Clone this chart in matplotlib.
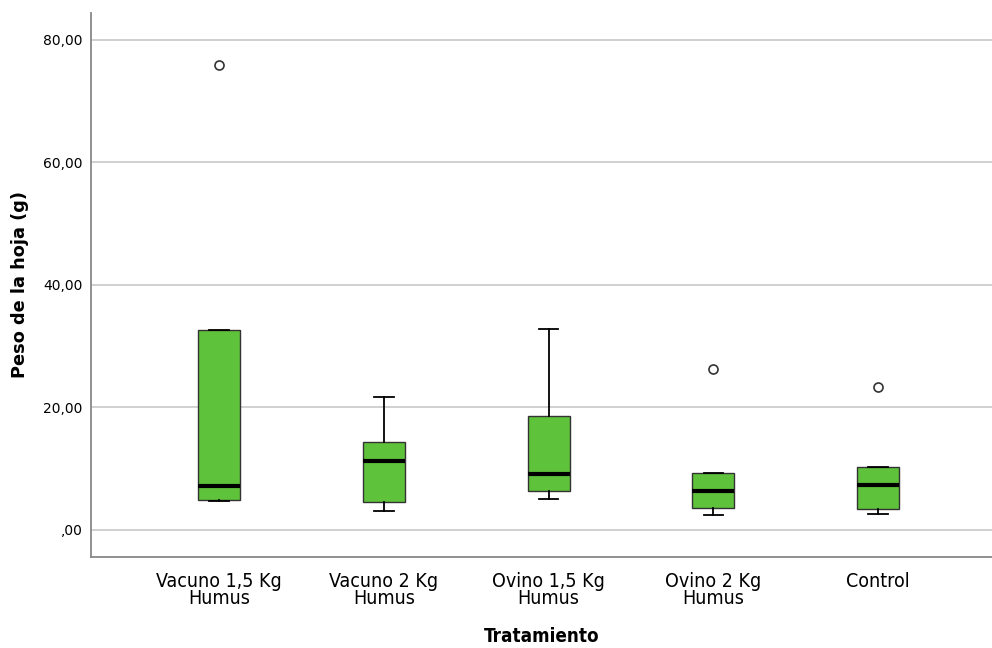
import matplotlib
matplotlib.use("Agg")
import matplotlib.pyplot as plt
from matplotlib import font_manager

# Box summaries for leaf weight per treatment
treatments = ["Vacuno 1,5 Kg\nHumus", "Vacuno 2 Kg\nHumus", "Ovino 1,5 Kg\nHumus",
              "Ovino 2 Kg\nHumus", "Control"]
q1 = [4.8, 4.5, 6.3, 3.5, 3.35]
medians = [7.1, 11.2, 9.1, 6.3, 7.3]
q3 = [32.5, 14.35, 18.5, 9.3, 10.2]
whisker_low = [4.7, 3.0, 5.0, 2.4, 2.5]
whisker_high = [32.5, 21.7, 32.8, 9.3, 10.2]
outliers = [[75.9], [], [], [26.2], [23.3]]

yticks = [0, 20, 40, 60, 80]
ytick_labels = [",00", "20,00", "40,00", "60,00", "80,00"]

# narrow face for the category labels and x title
names = {f.name for f in font_manager.fontManager.ttflist}
if "Liberation Sans Narrow" in names:
    narrow = dict(family="Liberation Sans Narrow")
else:
    narrow = dict(family="DejaVu Sans", stretch="condensed")

stats = []
for i in range(len(treatments)):
    stats.append({
        "q1": q1[i], "med": medians[i], "q3": q3[i],
        "whislo": whisker_low[i], "whishi": whisker_high[i],
        "fliers": outliers[i],
    })

fig = plt.figure(figsize=(9.92, 6.48), dpi=100)
ax = fig.add_axes([0.0917, 0.1409, 0.9083, 0.8386])

for y in yticks:
    ax.axhline(y, color="#c8c8c8", lw=1.2, zorder=0)

positions = list(range(1, len(treatments) + 1))
ax.bxp(stats, positions=positions, widths=0.255, patch_artist=True,
       showfliers=True,
       boxprops=dict(facecolor="#5ec23a", edgecolor="#333333", linewidth=1.0),
       medianprops=dict(color="black", linewidth=3),
       whiskerprops=dict(color="black", linewidth=1.3),
       capprops=dict(color="black", linewidth=1.3),
       capwidths=0.12,
       flierprops=dict(marker="o", markerfacecolor="white", markeredgecolor="#333333",
                       markersize=6.5, markeredgewidth=1.2))

ax.set_xlim(0.224, 5.69)
ax.set_ylim(-4.44, 84.3)
ax.set_yticks(yticks)
ax.set_yticklabels(ytick_labels, fontsize=10)
ax.set_xticks(positions)
ax.set_xticklabels(treatments, fontsize=14, linespacing=0.85, **narrow)
ax.tick_params(axis="both", length=0)
ax.tick_params(axis="y", pad=6)
ax.tick_params(axis="x", pad=11)

for side in ["top", "right"]:
    ax.spines[side].set_visible(False)
for side in ["left", "bottom"]:
    ax.spines[side].set_color("#888888")
    ax.spines[side].set_linewidth(1.3)

ax.set_ylabel("Peso de la hoja (g)", fontsize=12.8, fontweight="bold")
ax.yaxis.set_label_coords(-0.069, 0.5)
ax.set_xlabel("Tratamiento", fontsize=13.5, fontweight="bold", labelpad=14, **narrow)

fig.savefig("out.png", dpi=100)
